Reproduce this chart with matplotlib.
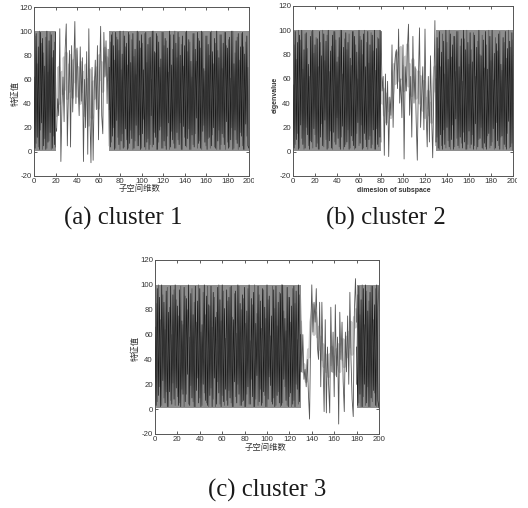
import matplotlib
matplotlib.use("Agg")
import matplotlib.pyplot as plt
import numpy as np
from matplotlib.transforms import Bbox

plt.rcParams['font.family'] = ['Liberation Sans', 'Noto Sans CJK SC', 'DejaVu Sans']
plt.rcParams['axes.unicode_minus'] = False

W, H = 528, 508

xticks = list(range(0, 201, 20))
yticks = list(range(-20, 121, 20))
band_low = 1
band_high = 100

# ---------- cluster 1: dense 0-20 and 70-200, scattered 20-70 ----------
c1_left_a = [62, 3, 98, 12, 87, 2, 99, 24, 94, 5,
             71, 2, 100, 8, 92, 16, 97, 3, 84, 6, 99]
c1_left_b = [30, 96, 7, 73, 4, 100, 18, 90, 2, 82,
             11, 95, 3, 66, 9, 99, 2, 78, 13, 91, 4]
c1_right_a = [70, 4, 97, 13, 88, 2, 99, 26, 93, 6,
              100, 9, 81, 3, 96, 19, 90, 2, 99, 7,
              74, 11, 98, 3, 85, 22, 100, 5, 92, 2,
              97, 15, 68, 4, 99, 8, 89, 2, 95, 30,
              100, 6, 83, 12, 98, 2, 91, 18, 77, 3,
              99, 9, 94, 2, 86, 24, 100, 4, 72, 10,
              97, 3, 90, 16, 99, 6, 80, 2, 96, 21,
              88, 5, 100, 11, 93, 2, 75, 14, 98, 4,
              85, 28, 99, 7, 92, 3, 100, 17, 69, 8,
              96, 2, 89, 12, 99, 5, 83, 20, 94, 3,
              100, 9, 78, 2, 97, 15, 90, 6, 99, 25,
              86, 3, 95, 10, 100, 2, 73, 18, 92, 7,
              98, 4, 87, 13, 99, 2, 81, 23, 96, 5, 3]
c1_right_b = [35, 91, 8, 99, 20, 76, 3, 95, 12, 84,
              2, 68, 15, 100, 4, 87, 10, 72, 3, 97,
              18, 93, 2, 79, 9, 64, 5, 99, 14, 86,
              3, 90, 27, 98, 2, 74, 11, 94, 6, 60,
              4, 100, 16, 82, 2, 96, 8, 70, 21, 99,
              3, 88, 5, 92, 13, 66, 2, 97, 17, 85,
              7, 100, 3, 78, 10, 95, 24, 89, 2, 71,
              12, 99, 4, 83, 19, 91, 2, 62, 6, 98,
              15, 75, 3, 94, 9, 86, 2, 99, 22, 67,
              5, 96, 11, 80, 3, 100, 14, 73, 4, 90,
              2, 84, 18, 97, 6, 69, 12, 99, 2, 88,
              8, 93, 4, 61, 20, 100, 3, 82, 10, 95,
              2, 76, 16, 98, 5, 87, 2, 91, 13, 70, 4]
c1_sparse_a = [20, 17, 44, 30, 102, -8, 38, 62, 25, 85,
               106, 5, 48, 84, 4, 88, 33, 72, 108, 40,
               86, 58, 30, 87, 42, 78, -8, 60, 20, 83,
               -2, 102, 30, -9, 70, -7, 50, 76, 35, 88,
               10, 66, 104, 30, 15, 99, 62, 92, 40, 85, 5]
c1_sparse_b = [45, 30, 52, 70, 40, 56, 66, 48, 78, 52,
               82, 44, 72, 50, 80, 62, 45, 76, 58, 84,
               46, 70, 55, 40, 74, 50, 66, 30, 72, 48,
               60, 22, 68, 40, 28, 58, 44, 62, 52, 70,
               36, 80, 60, 74, 50, 68, 86, 64, 78, 70, 60]

# ---------- cluster 2: dense 0-80 and 130-200, scattered 80-130 ----------
c2_left_a = [55, 3, 99, 10, 90, 2, 96, 22, 100, 6,
             84, 3, 98, 14, 72, 2, 95, 8, 100, 19,
             88, 4, 93, 2, 99, 12, 79, 5, 97, 26,
             91, 2, 100, 9, 83, 3, 96, 16, 99, 6,
             74, 11, 94, 2, 100, 21, 86, 4, 98, 8,
             90, 2, 77, 13, 99, 5, 95, 3, 82, 24,
             100, 7, 92, 2, 97, 15, 70, 4, 99, 10,
             88, 3, 96, 18, 100, 2, 85, 6, 93, 12, 99]
c2_left_b = [25, 88, 6, 76, 15, 100, 3, 92, 11, 68,
             2, 97, 20, 85, 5, 62, 9, 99, 3, 81,
             14, 94, 7, 70, 2, 90, 23, 100, 4, 75,
             10, 96, 3, 66, 17, 87, 2, 99, 8, 92,
             28, 78, 4, 100, 12, 64, 2, 93, 6, 84,
             18, 97, 3, 71, 9, 99, 2, 88, 15, 60,
             5, 95, 22, 80, 3, 100, 10, 90, 2, 73,
             13, 98, 6, 83, 2, 67, 19, 94, 4, 100, 8]
c2_right_a = [8, 94, 3, 99, 14, 82, 2, 91, 6, 100,
              20, 76, 4, 97, 10, 88, 2, 95, 27, 99,
              5, 70, 12, 93, 3, 100, 8, 84, 2, 90,
              17, 98, 6, 74, 2, 96, 23, 86, 4, 100,
              11, 79, 3, 92, 7, 99, 2, 68, 15, 95,
              5, 100, 19, 81, 3, 89, 9, 97, 2, 72,
              13, 94, 6, 99, 2, 85, 25, 91, 4, 98, 1]
c2_right_b = [60, 12, 85, 2, 70, 5, 97, 18, 64, 3,
              90, 9, 100, 2, 78, 22, 95, 4, 66, 11,
              99, 3, 87, 7, 58, 16, 93, 2, 100, 6,
              72, 3, 84, 14, 98, 5, 62, 2, 91, 10,
              80, 20, 96, 2, 69, 4, 88, 13, 100, 3,
              75, 8, 59, 2, 94, 24, 83, 5, 99, 12,
              67, 2, 90, 4, 77, 15, 100, 3, 86, 7, 92]
c2_sparse_a = [99, 50, 62, -3, 64, 22, 58, -4, 45, 30,
               88, 20, 66, 78, 84, 52, 101, 40, 60, 28,
               88, -6, 70, 50, 85, 105, 30, 62, 12, 95,
               40, 70, 25, -7, 60, 102, 20, 46, 70, 18,
               101, 32, 4, 62, 8, 79, 30, -5, 50, 108, 5]
c2_sparse_b = [60, 40, 52, 30, 48, 24, 44, 34, 38, 28,
               42, 50, 72, 56, 82, 66, 74, 58, 86, 60,
               70, 50, 78, 62, 88, 54, 72, 60, 46, 76,
               58, 68, 44, 52, 66, 40, 62, 48, 34, 58,
               28, 44, 36, 50, 30, 40, 24, 46, 60, 70, 50]

# ---------- cluster 3: dense 0-130 and 180-200, scattered 130-180 ----------
c3_left_a = [66, 3, 97, 11, 90, 2, 100, 23, 86, 5,
             95, 2, 78, 14, 99, 4, 92, 8, 100, 17,
             83, 3, 96, 2, 71, 12, 98, 6, 89, 28,
             100, 3, 93, 9, 76, 2, 99, 15, 87, 5,
             97, 2, 68, 20, 100, 7, 91, 3, 84, 11,
             99, 2, 94, 25, 74, 4, 98, 13, 88, 2,
             100, 6, 81, 16, 96, 3, 90, 9, 99, 2,
             72, 22, 95, 5, 100, 12, 85, 3, 92, 7,
             98, 2, 79, 18, 100, 4, 89, 10, 94, 2,
             69, 27, 99, 6, 87, 3, 97, 14, 82, 2,
             100, 8, 91, 19, 75, 4, 96, 2, 99, 11,
             86, 5, 93, 3, 100, 24, 73, 7, 98, 2,
             90, 13, 83, 4, 99, 2, 95, 16, 100, 6, 60]
c3_left_b = [40, 85, 6, 100, 18, 72, 3, 92, 9, 64,
             14, 98, 2, 82, 7, 60, 21, 96, 3, 88,
             10, 75, 5, 99, 16, 68, 2, 91, 12, 80,
             4, 58, 19, 97, 6, 86, 2, 70, 25, 100,
             9, 62, 3, 94, 13, 76, 5, 99, 2, 83,
             17, 66, 8, 90, 2, 78, 22, 100, 4, 71,
             11, 95, 3, 57, 7, 87, 15, 98, 5, 74,
             2, 93, 10, 61, 20, 99, 3, 80, 6, 89,
             2, 69, 12, 97, 4, 55, 24, 84, 2, 100,
             8, 77, 3, 92, 16, 65, 5, 96, 11, 73,
             2, 88, 26, 59, 6, 99, 9, 81, 3, 67,
             14, 94, 2, 100, 5, 79, 18, 63, 3, 90,
             10, 70, 2, 97, 7, 85, 20, 56, 4, 92, 30]
c3_right_a = [50, 3, 99, 12, 88, 2, 97, 20, 100, 5,
              79, 2, 94, 9, 99, 15, 84, 3, 100, 7, 1]
c3_right_b = [20, 92, 5, 76, 2, 100, 10, 68, 3, 95,
              18, 87, 2, 99, 6, 72, 13, 97, 2, 82, 99]
c3_sparse_a = [90, 30, 60, 24, 32, 18, 40, 12, -8, 60,
               100, 62, 86, 70, 97, 50, 40, 86, 18, 86,
               40, -2, 72, -3, 50, 20, -3, 82, 30, 62,
               10, 84, 26, 58, -12, 78, 40, 70, 22, -2,
               62, 30, 75, 20, 94, 40, 8, -6, 78, 105, 70]
c3_sparse_b = [70, 44, 30, 36, 28, 22, 34, 48, 42, 70,
               76, 84, 60, 78, 72, 58, 66, 48, 58, 40,
               52, 34, 44, 30, 38, 26, 44, 36, 50, 30,
               42, 28, 48, 36, 52, 30, 46, 40, 56, 34,
               48, 58, 42, 62, 50, 70, 44, 60, 74, 66, 80]

panels = [
    dict(box=(34, 7, 249, 176), left=(c1_left_a, c1_left_b, 0), right=(c1_right_a, c1_right_b, 70),
         sparse=(c1_sparse_a, c1_sparse_b, 20), xlabel='子空间维数', ylabel='特征值', bold=False,
         xl=(140, 189), yl=(15, 93), cap='(a) cluster 1', capxy=(123, 218), clip=254),
    dict(box=(293, 6, 513, 176), left=(c2_left_a, c2_left_b, 0), right=(c2_right_a, c2_right_b, 130),
         sparse=(c2_sparse_a, c2_sparse_b, 80), xlabel='dimesion of subspace', ylabel='eigenvalue', bold=True,
         xl=(394, 190), yl=(275, 95), cap='(b) cluster 2', capxy=(386, 218), clip=517),
    dict(box=(155, 260, 379, 434), left=(c3_left_a, c3_left_b, 0), right=(c3_right_a, c3_right_b, 180),
         sparse=(c3_sparse_a, c3_sparse_b, 130), xlabel='子空间维数', ylabel='特征值', bold=False,
         xl=(266, 448), yl=(135, 348), cap='(c) cluster 3', capxy=(267, 490), clip=None),
]

fig = plt.figure(figsize=(W / 100, H / 100), dpi=100, facecolor='white')
TXT = '#333333'

for p in panels:
    l, t, r, b = p['box']
    ax = fig.add_axes([l / W, 1 - b / H, (r - l) / W, (b - t) / H])
    sa, sb, s0 = p['sparse']
    ax.plot(np.arange(s0, s0 + len(sb)), sb, color='#c8c8c8', lw=2.0, zorder=1)
    ax.plot(np.arange(s0, s0 + len(sa)), sa, color='#555555', lw=0.6, zorder=2)
    for a, bb, x0 in (p['left'], p['right']):
        xa = np.arange(x0, x0 + len(a))
        xb = np.arange(x0, x0 + len(bb))
        ax.fill_between(xa, band_low, band_high, color='#8e8e8e', lw=0, zorder=2.5)
        ax.plot(xb, bb, color='#555555', lw=0.55, zorder=3)
        ax.plot(xa, a, color='#1c1c1c', lw=0.5, zorder=4)
    ax.set_xlim(0, 200)
    ax.set_ylim(-20, 120)
    ax.set_xticks(xticks)
    ax.set_yticks(yticks)
    ax.tick_params(direction='in', top=True, right=True, length=2, width=0.6, color='#444444',
                   labelsize=5.6, labelcolor=TXT, pad=1.5)
    for s in ax.spines.values():
        s.set_linewidth(0.7)
        s.set_color('#555555')
    if p['clip']:
        box = Bbox([[0, 0], [p['clip'], H]])
        for lab in ax.get_xticklabels():
            lab.set_clip_box(box)
            lab.set_clip_on(True)
    w = 'bold' if p['bold'] else 'normal'
    fs = 5 if p['bold'] else 6
    fig.text(p['xl'][0] / W, 1 - p['xl'][1] / H, p['xlabel'], ha='center', va='center',
             fontsize=fs, color=TXT, fontweight=w)
    fig.text(p['yl'][0] / W, 1 - p['yl'][1] / H, p['ylabel'], ha='center', va='center',
             fontsize=fs, color=TXT, rotation=90, fontweight=w)
    fig.text(p['capxy'][0] / W, 1 - p['capxy'][1] / H, p['cap'], ha='center', va='center',
             fontsize=17.8, color='#1a1a1a', family='Liberation Serif')

fig.savefig('out.png', dpi=100, facecolor='white')
